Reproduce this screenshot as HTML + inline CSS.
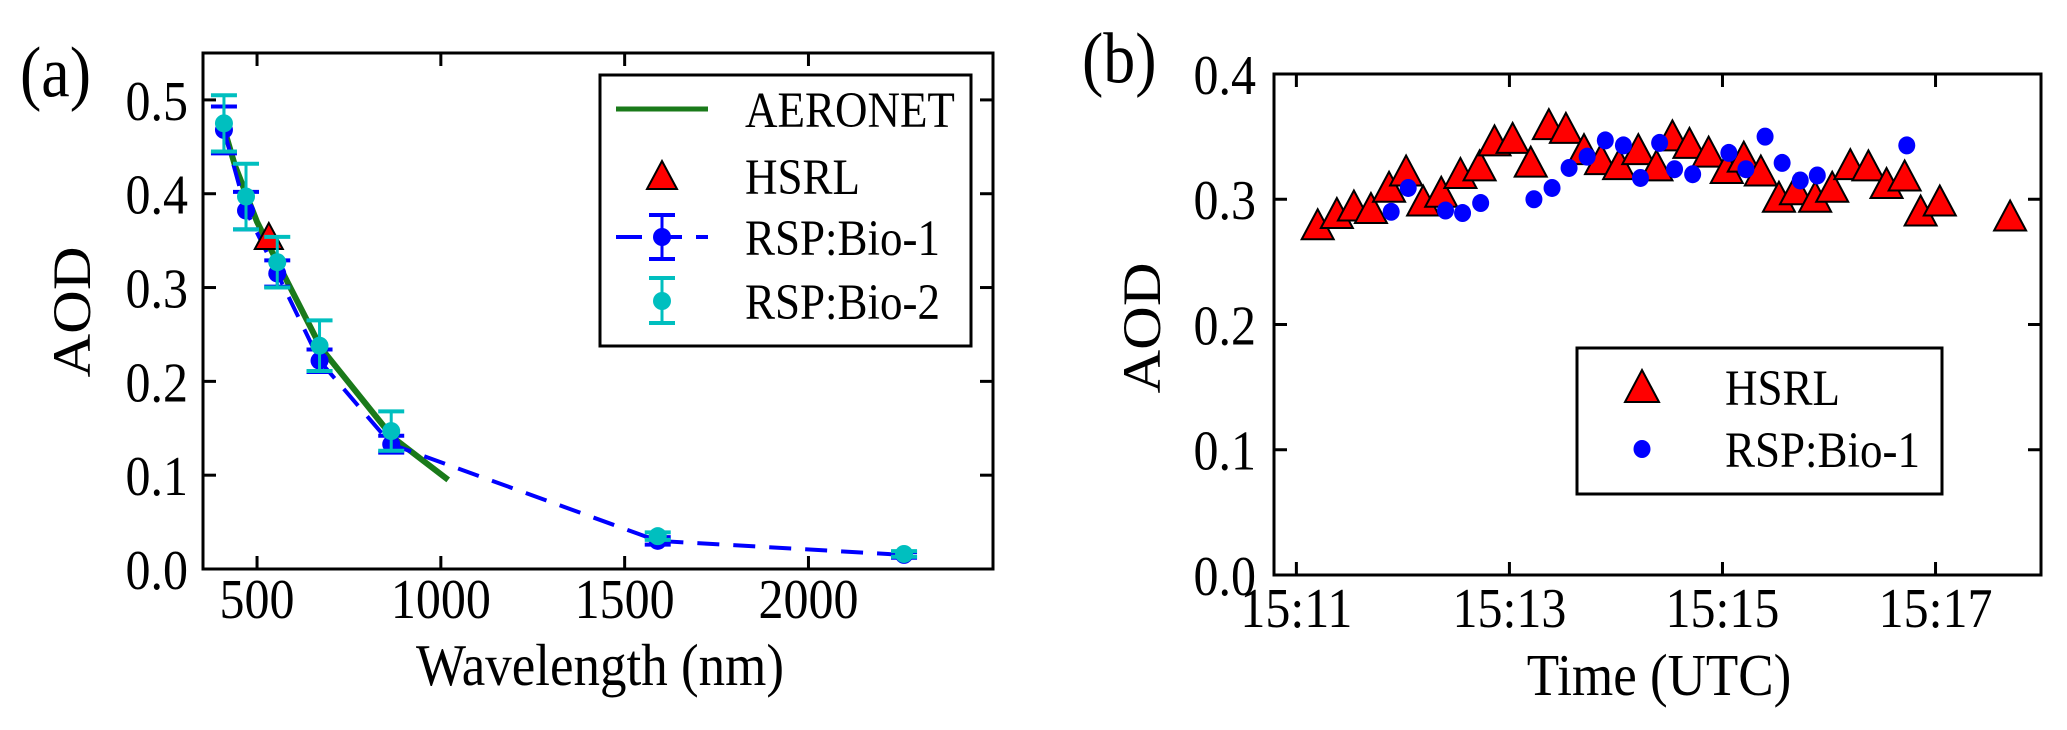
<!DOCTYPE html>
<html><head><meta charset="utf-8">
<style>
html,body{margin:0;padding:0;background:#fff;}
svg{display:block;}
svg text{font-family:"Liberation Serif","Times New Roman",serif;}
</style></head>
<body>
<svg id="fig" width="2067" height="730" viewBox="0 0 2067 730" xmlns="http://www.w3.org/2000/svg" font-family="Liberation Serif, serif">
</svg>
<script>
// ---------- Panel (a) data ----------
const aeroWl = [410, 440, 500, 532, 675, 870, 1020];
const aeroAod = [0.47, 0.43, 0.37, 0.345, 0.235, 0.14, 0.095];
const hsrlAWl = [532];
const hsrlAAod = [0.355];
const bio1Wl = [410, 470, 555, 670, 865, 1590, 2260];
const bio1Aod = [0.468, 0.382, 0.315, 0.222, 0.133, 0.030, 0.015];
const bio1Err = [0.025, 0.02, 0.014, 0.012, 0.009, 0.004, 0.003];
const bio2Wl = [410, 470, 555, 670, 865, 1590, 2260];
const bio2Aod = [0.475, 0.397, 0.327, 0.238, 0.147, 0.035, 0.016];
const bio2Err = [0.03, 0.035, 0.027, 0.027, 0.021, 0.004, 0.003];
const aXTicks = [500, 1000, 1500, 2000];
const aYTicks = [0.0, 0.1, 0.2, 0.3, 0.4, 0.5];

// ---------- Panel (b) data (minutes after 15:00) ----------
const hsrlT = [11.20,11.38,11.54,11.70,11.87,12.03,12.19,12.36,12.54,12.72,12.86,13.03,13.20,13.37,13.53,13.70,13.86,14.03,14.21,14.38,14.53,14.69,14.87,15.04,15.20,15.36,15.53,15.69,15.87,16.03,16.20,16.37,16.54,16.71,16.86,17.04,17.70];
const hsrlAod = [0.280,0.289,0.295,0.293,0.310,0.323,0.299,0.306,0.321,0.327,0.347,0.349,0.330,0.360,0.357,0.340,0.332,0.328,0.340,0.327,0.351,0.345,0.338,0.325,0.334,0.323,0.302,0.308,0.302,0.310,0.328,0.327,0.313,0.319,0.291,0.299,0.287];
const rspT = [11.89,12.05,12.40,12.56,12.73,13.23,13.40,13.56,13.73,13.90,14.07,14.23,14.41,14.55,14.72,15.06,15.22,15.40,15.56,15.73,15.89,16.73];
const rspAod = [0.290,0.309,0.291,0.289,0.297,0.300,0.309,0.325,0.334,0.347,0.343,0.317,0.345,0.324,0.320,0.337,0.324,0.350,0.329,0.315,0.319,0.343];
const bXTicks = [11, 13, 15, 17];
const bXLabels = ["15:11", "15:13", "15:15", "15:17"];
const bYTicks = [0.0, 0.1, 0.2, 0.3, 0.4];

const NS = "http://www.w3.org/2000/svg";
const svg = document.getElementById("fig");
const STR = 1.12; // vertical stretch of glyphs seen in the reference
function el(tag, attrs, parent, text) {
  const e = document.createElementNS(NS, tag);
  for (const k in attrs) e.setAttribute(k, attrs[k]);
  if (tag === "text") {
    e.setAttribute("font-family", "Liberation Serif, Times New Roman, serif");
    if (!attrs.transform) {
      const y = attrs.y, cy = y - attrs["font-size"] * 0.33;
      e.setAttribute("transform", `translate(0,${cy}) scale(1,${STR}) translate(0,${-cy})`);
    }
  }
  if (text !== undefined) e.textContent = text;
  (parent || svg).appendChild(e);
  return e;
}
function tri(g, cx, cy, w, h) {
  return el("polygon", {points: `${cx-w/2},${cy+h/2} ${cx+w/2},${cy+h/2} ${cx},${cy-h/2}`, fill: "#ff0000", stroke: "#000", "stroke-width": 2}, g);
}

// ================= PANEL A =================
const A = {l: 203, r: 993, t: 53, b: 569, x0: 353, x1: 2502, y0: 0, y1: 0.55};
const ax = v => A.l + (v - A.x0) / (A.x1 - A.x0) * (A.r - A.l);
const ay = v => A.b - (v - A.y0) / (A.y1 - A.y0) * (A.b - A.t);
const gA = el("g", {});



const labA = el("text", {x: 20, y: 94, "font-size": 64}, gA, "(a)");



aXTicks.forEach(v => {
  const x = ax(v);
  el("line", {x1: x, x2: x, y1: A.b, y2: A.b - 13, stroke: "#000", "stroke-width": 3}, gA);
  el("line", {x1: x, x2: x, y1: A.t, y2: A.t + 13, stroke: "#000", "stroke-width": 3}, gA);
  const t = el("text", {x: x, y: 616, "font-size": 50, "text-anchor": "middle"}, gA, String(v));
  
  
});
aYTicks.forEach(v => {
  const y = ay(v);
  el("line", {x1: A.l, x2: A.l + 13, y1: y, y2: y, stroke: "#000", "stroke-width": 3}, gA);
  el("line", {x1: A.r, x2: A.r - 13, y1: y, y2: y, stroke: "#000", "stroke-width": 3}, gA);
  const t = el("text", {x: 188, y: y + 18, "font-size": 50, "text-anchor": "end"}, gA, v.toFixed(1));
  
  
});
const xtA = el("text", {x: 600, y: 683, "font-size": 53, "text-anchor": "middle"}, gA, "Wavelength (nm)");


const ytA = el("text", {x: 0, y: 0, "font-size": 54, "text-anchor": "middle", transform: `translate(90,312) rotate(-90) scale(${STR},1)`}, gA, "AOD");



const aeroPts = aeroWl.map((w, i) => `${ax(w)},${ay(aeroAod[i])}`).join(" ");
const aeroLine = el("polyline", {points: aeroPts, fill: "none", stroke: "#1a7a1a", "stroke-width": 6, "stroke-linejoin": "round"}, gA);



const b1Pts = bio1Wl.map((w, i) => `${ax(w)},${ay(bio1Aod[i])}`).join(" ");
const b1Line = el("polyline", {points: b1Pts, fill: "none", stroke: "#0000ff", "stroke-width": 4, "stroke-dasharray": "22,14"}, gA);


bio1Wl.forEach((w, i) => {
  const x = ax(w), y1 = ay(bio1Aod[i] + bio1Err[i]), y2 = ay(bio1Aod[i] - bio1Err[i]);
  el("line", {x1: x, x2: x, y1: y1, y2: y2, stroke: "#0000ff", "stroke-width": 3}, gA);
  el("line", {x1: x - 13, x2: x + 13, y1: y1, y2: y1, stroke: "#0000ff", "stroke-width": 4}, gA);
  el("line", {x1: x - 13, x2: x + 13, y1: y2, y2: y2, stroke: "#0000ff", "stroke-width": 4}, gA);
  const c = el("ellipse", {cx: x, cy: ay(bio1Aod[i]), rx: 9, ry: 9, fill: "#0000ff"}, gA);
  
  
});
hsrlAWl.forEach((w, i) => {
  const t = tri(gA, ax(w), ay(hsrlAAod[i]), 28, 26);
  
  
});
bio2Wl.forEach((w, i) => {
  const x = ax(w), y1 = ay(bio2Aod[i] + bio2Err[i]), y2 = ay(bio2Aod[i] - bio2Err[i]);
  el("line", {x1: x, x2: x, y1: y1, y2: y2, stroke: "#00bfbf", "stroke-width": 3}, gA);
  el("line", {x1: x - 13, x2: x + 13, y1: y1, y2: y1, stroke: "#00bfbf", "stroke-width": 4}, gA);
  el("line", {x1: x - 13, x2: x + 13, y1: y2, y2: y2, stroke: "#00bfbf", "stroke-width": 4}, gA);
  const c = el("ellipse", {cx: x, cy: ay(bio2Aod[i]), rx: 9, ry: 9, fill: "#00bfbf"}, gA);
  
  
});
const frA = el("rect", {x: A.l, y: A.t, width: A.r - A.l, height: A.b - A.t, fill: "none", stroke: "#000", "stroke-width": 3}, gA);



const lgA = el("g", {}, gA);


el("rect", {x: 600, y: 75, width: 371, height: 271, fill: "#fff", stroke: "#000", "stroke-width": 3}, lgA);
el("line", {x1: 616, x2: 708, y1: 109, y2: 109, stroke: "#1a7a1a", "stroke-width": 5}, lgA);
el("text", {x: 745, y: 125, "font-size": 45}, lgA, "AERONET");
tri(lgA, 662, 175, 30, 28);
el("text", {x: 745, y: 192, "font-size": 45}, lgA, "HSRL");
el("line", {x1: 616, x2: 708, y1: 237, y2: 237, stroke: "#0000ff", "stroke-width": 4, "stroke-dasharray": "26,14"}, lgA);
el("line", {x1: 662, x2: 662, y1: 215, y2: 259, stroke: "#0000ff", "stroke-width": 3}, lgA);
el("line", {x1: 649, x2: 675, y1: 215, y2: 215, stroke: "#0000ff", "stroke-width": 4}, lgA);
el("line", {x1: 649, x2: 675, y1: 259, y2: 259, stroke: "#0000ff", "stroke-width": 4}, lgA);
el("ellipse", {cx: 662, cy: 237, rx: 9, ry: 9, fill: "#0000ff"}, lgA);
el("text", {x: 745, y: 253, "font-size": 45}, lgA, "RSP:Bio-1");
el("line", {x1: 662, x2: 662, y1: 278, y2: 323, stroke: "#00bfbf", "stroke-width": 3}, lgA);
el("line", {x1: 649, x2: 675, y1: 278, y2: 278, stroke: "#00bfbf", "stroke-width": 4}, lgA);
el("line", {x1: 649, x2: 675, y1: 323, y2: 323, stroke: "#00bfbf", "stroke-width": 4}, lgA);
el("ellipse", {cx: 662, cy: 301, rx: 9, ry: 9, fill: "#00bfbf"}, lgA);
el("text", {x: 745, y: 317, "font-size": 45}, lgA, "RSP:Bio-2");

// ================= PANEL B =================
const B = {l: 1274, r: 2041, t: 74, b: 575, x0: 10.79, x1: 17.99, y0: 0, y1: 0.4};
const bx = v => B.l + (v - B.x0) / (B.x1 - B.x0) * (B.r - B.l);
const by = v => B.b - (v - B.y0) / (B.y1 - B.y0) * (B.b - B.t);
const gB = el("g", {});



const labB = el("text", {x: 1082, y: 80, "font-size": 64}, gB, "(b)");



bXTicks.forEach((v, i) => {
  const x = bx(v);
  el("line", {x1: x, x2: x, y1: B.b, y2: B.b - 13, stroke: "#000", "stroke-width": 3}, gB);
  el("line", {x1: x, x2: x, y1: B.t, y2: B.t + 13, stroke: "#000", "stroke-width": 3}, gB);
  const t = el("text", {x: x, y: 625, "font-size": 50, "text-anchor": "middle"}, gB, bXLabels[i]);
  
  
});
bYTicks.forEach(v => {
  const y = by(v);
  el("line", {x1: B.l, x2: B.l + 13, y1: y, y2: y, stroke: "#000", "stroke-width": 3}, gB);
  el("line", {x1: B.r, x2: B.r - 13, y1: y, y2: y, stroke: "#000", "stroke-width": 3}, gB);
  const t = el("text", {x: 1256, y: y + 18, "font-size": 50, "text-anchor": "end"}, gB, v.toFixed(1));
  
  
});
const xtB = el("text", {x: 1659, y: 693, "font-size": 53, "text-anchor": "middle"}, gB, "Time (UTC)");


const ytB = el("text", {x: 0, y: 0, "font-size": 54, "text-anchor": "middle", transform: `translate(1160,328) rotate(-90) scale(${STR},1)`}, gB, "AOD");



hsrlT.forEach((t, i) => {
  const m = tri(gB, bx(t), by(hsrlAod[i]), 32, 30);
  
  
});
rspT.forEach((t, i) => {
  const c = el("ellipse", {cx: bx(t), cy: by(rspAod[i]), rx: 8.5, ry: 9, fill: "#0000ff"}, gB);
  
  
});
const frB = el("rect", {x: B.l, y: B.t, width: B.r - B.l, height: B.b - B.t, fill: "none", stroke: "#000", "stroke-width": 3}, gB);



const lgB = el("g", {}, gB);


el("rect", {x: 1577, y: 348, width: 365, height: 146, fill: "#fff", stroke: "#000", "stroke-width": 3}, lgB);
tri(lgB, 1642, 386, 34, 32);
el("text", {x: 1725, y: 403, "font-size": 45}, lgB, "HSRL");
el("ellipse", {cx: 1642, cy: 449, rx: 8.5, ry: 9, fill: "#0000ff"}, lgB);
el("text", {x: 1725, y: 465, "font-size": 45}, lgB, "RSP:Bio-1");
</script>
</body></html>
